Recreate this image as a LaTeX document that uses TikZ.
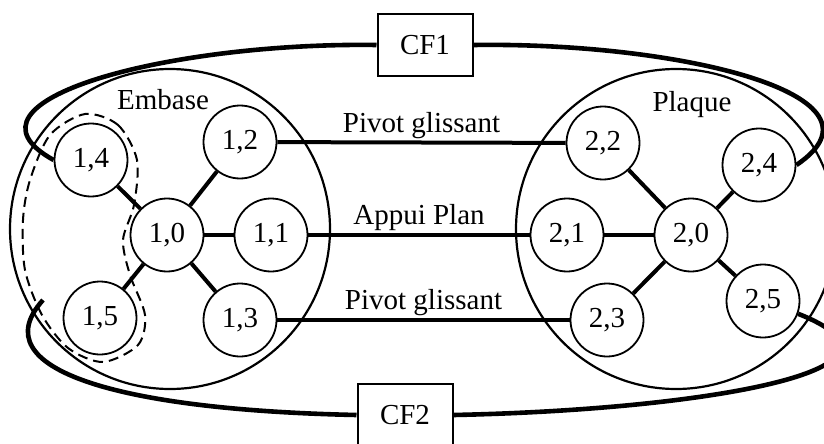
\documentclass[tikz,border=0pt]{standalone}
\usepackage{fontspec}
\setmainfont{Liberation Serif}
\usetikzlibrary{calc}

\begin{document}
\begin{tikzpicture}
[x=0.5pt,y=-0.5pt,
font=\fontsize{14.5}{16}\selectfont,
vertex/.style={circle,draw,line width=0.9pt,minimum size=36.5pt,inner sep=0pt,fill=white},
part/.style={circle,draw,line width=1.1pt,minimum size=160pt,inner sep=0pt},
partLabel/.style={inner sep=0pt},
edge/.style={line width=2pt},
linkLabel/.style={above,inner sep=1pt,midway},
loopEdge/.style={line width=2.3pt},
cfBox/.style={draw,line width=1pt,minimum width=47.5pt,minimum height=31pt,fill=white},
group/.style={line width=1pt,dash pattern=on 5pt off 3pt}]
\clip (0,0) rectangle (824,444);
\node[part] (embase) at (170,229) {};
\node[part] (plaque) at (676,229) {};
\node[partLabel] (lembase) at (163,100) {Embase};
\node[partLabel] (lplaque) at (692,105) {Plaque};

\draw[group] plot[smooth cycle] coordinates {(85,114) (118,125) (137,160) (134,205) (123,240) (130,275) (145,315) (138,345) (103,362) (68,348) (42,315) (25,270) (23,220) (30,180) (50,135)};
\coordinate (g) at (43,300);

\node[vertex] (14) at (91,160) {1,4};
\node[vertex] (12) at (240,142) {1,2};
\node[vertex] (10) at (167,235) {1,0};
\node[vertex] (11) at (271,235) {1,1};
\node[vertex] (15) at (100,318) {1,5};
\node[vertex] (13) at (240,320) {1,3};
\node[vertex] (22) at (603,143) {2,2};
\node[vertex] (24) at (759,165) {2,4};
\node[vertex] (21) at (567,235) {2,1};
\node[vertex] (20) at (691,235) {2,0};
\node[vertex] (23) at (607,320) {2,3};
\node[vertex] (25) at (763,301) {2,5};
\node[cfBox] (cf1) at (425,45) {CF1};
\node[cfBox] (cf2) at (405,415) {CF2};

\draw[edge] (10) -- (14);
\draw[edge] (10) -- (12);
\draw[edge] (10) -- (11);
\draw[edge] (10) -- (15);
\draw[edge] (10) -- (13);
\draw[edge] (20) -- (21);
\draw[edge] (20) -- (22);
\draw[edge] (20) -- (23);
\draw[edge] (20) -- (24);
\draw[edge] (20) -- (25);

\draw[edge] (12) -- node[linkLabel] {Pivot glissant} (22);
\draw[edge] (11) -- node[linkLabel] {Appui Plan} (21);
\draw[edge] (13) -- node[linkLabel] {Pivot glissant} (23);

\draw[loopEdge] (cf1.west) .. controls (171,42) and (-55,100) .. (14.west);
\draw[loopEdge] (cf1.east) .. controls (680,42) and (900,95) .. (24.east);
\draw[loopEdge] (cf2.west) .. controls (120,410) and (-20,370) .. (g);
\draw[loopEdge] (cf2.east) .. controls (700,410) and (940,370) .. (25.-20);
\end{tikzpicture}
\end{document}
